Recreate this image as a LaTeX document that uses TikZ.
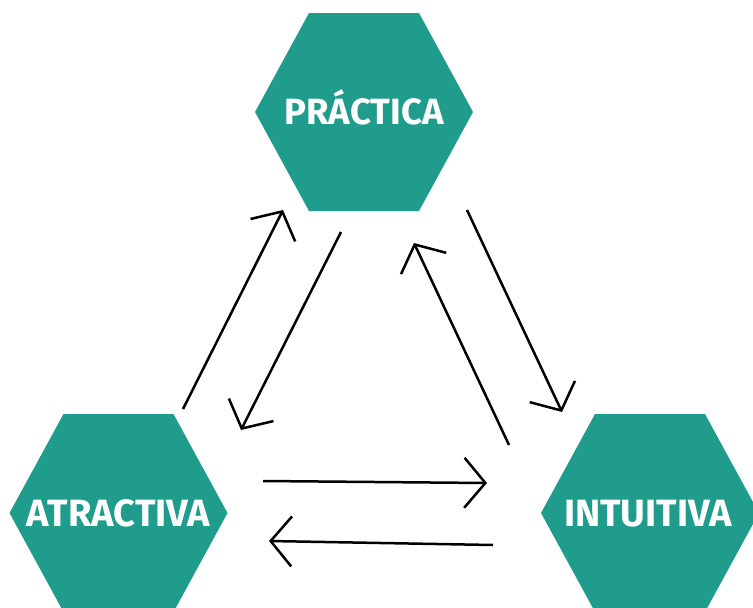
\documentclass[tikz,border=0pt]{standalone}
\usepackage{fontspec}
\setmainfont{Fira Sans}
\usetikzlibrary{arrows.meta}

\definecolor{verdeazul}{HTML}{1F9C8B}

\tikzset{
  hexfill/.style={fill=verdeazul},
  rotulo/.style={text=white, font=\bfseries\fontsize{36.5}{36.5}\selectfont, text height=25pt, text depth=0pt, inner sep=0pt},
  rotulogrande/.style={rotulo, font=\bfseries\fontsize{38}{38}\selectfont, text height=26pt},
  flecha/.style={line width=2.5pt, -{Straight Barb[length=21pt,width=50pt,sharp]}}
}

\begin{document}
\begin{tikzpicture}[x=1pt,y=-1pt]
\useasboundingbox (0,0) rectangle (753,608);

\coordinate (p) at (364,112);
\coordinate (a) at (118.5,513);
\coordinate (i) at (650,513);

% hexagons
\fill [hexfill] (p) ++(-109,0) -- ++(54,-99) -- ++(110,0) -- ++(54,99) -- ++(-54,99) -- ++(-110,0) -- cycle;
\fill [hexfill] (a) ++(-109,0) -- ++(54,-99) -- ++(110,0) -- ++(54,99) -- ++(-54,99) -- ++(-110,0) -- cycle;
\fill [hexfill] (i) ++(-109,0) -- ++(54,-99) -- ++(110,0) -- ++(54,99) -- ++(-54,99) -- ++(-110,0) -- cycle;

\node [rotulo] (practica) at (p) {PRÁCTICA};
\node [rotulogrande] (atractiva) at (a) {ATRACTIVA};
\node [rotulogrande] (intuitiva) at ([xshift=-2pt]i) {INTUITIVA};

% arrow ends
\coordinate (ap0) at (183,409);  \coordinate (ap1) at (283,210);
\coordinate (pa0) at (341,232);  \coordinate (pa1) at (241,430);
\coordinate (ip0) at (509,445);  \coordinate (ip1) at (414,243);
\coordinate (pi0) at (467,210);  \coordinate (pi1) at (562,412);
\coordinate (ai0) at (263,481);  \coordinate (ai1) at (487,483);
\coordinate (ia0) at (493,545);  \coordinate (ia1) at (269,541);

\draw [flecha] (ap0) -- (ap1);
\draw [flecha] (pa0) -- (pa1);
\draw [flecha] (ip0) -- (ip1);
\draw [flecha] (pi0) -- (pi1);
\draw [flecha] (ai0) -- (ai1);
\draw [flecha] (ia0) -- (ia1);

\end{tikzpicture}
\end{document}
